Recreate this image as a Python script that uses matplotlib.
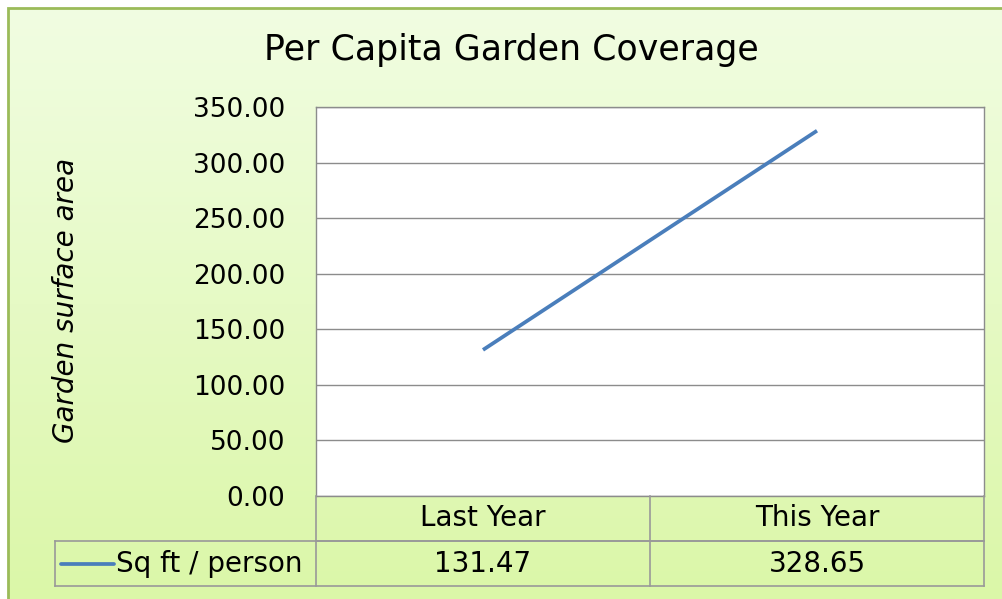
import matplotlib
matplotlib.use('Agg')
import matplotlib.pyplot as plt
import numpy as np
from matplotlib.colors import LinearSegmentedColormap
from matplotlib.patches import Rectangle

categories = ['Last Year', 'This Year']
values = [131.47, 328.65]
series_name = 'Sq ft / person'
title = 'Per Capita Garden Coverage'
ylabel = 'Garden surface area'
yticks = [0, 50, 100, 150, 200, 250, 300, 350]

W, H = 1002, 599
fig = plt.figure(figsize=(W / 100, H / 100), dpi=100)
fig.patch.set_facecolor('white')

def fx(px):
    return px / W

def fy(py):
    return 1 - py / H

# chart area background: vertical gradient with green border
bg = fig.add_axes([fx(8), 0, 1 - fx(8), fy(8)])
grad = LinearSegmentedColormap.from_list('g', ['#dbf7a8', '#f1fde2'])
bg.imshow(np.linspace(0, 1, 256).reshape(-1, 1), aspect='auto', cmap=grad,
          origin='lower', extent=[0, 1, 0, 1])
bg.set_xlim(0, 1)
bg.set_ylim(0, 1)
bg.axis('off')
fig.add_artist(Rectangle((fx(8), -0.01), 1.0, fy(8) + 0.01, transform=fig.transFigure,
                         fill=False, edgecolor='#9bbb59', lw=2))

# plot area
ax = fig.add_axes([fx(316), fy(496), fx(984) - fx(316), fy(107) - fy(496)])
ax.set_facecolor('white')
x = np.arange(len(categories))
ax.plot(x, values, color='#4a7ebb', lw=2.7, solid_capstyle='butt')
ax.set_xlim(-0.5, len(categories) - 0.5)
ax.set_ylim(0, 350)
ax.set_yticks(yticks)
ax.set_yticklabels([f'{v:.2f}' for v in yticks], fontsize=19)
ax.set_xticks([])
ax.yaxis.grid(True, color='#8c8c8c', lw=1)
ax.set_axisbelow(True)
ax.tick_params(axis='y', length=0, pad=22)
for s in ax.spines.values():
    s.set_color('#8c8c8c')
    s.set_linewidth(1)

fig.text(fx(511), fy(50), title, ha='center', va='center', fontsize=25,
         family=['Liberation Sans Narrow', 'DejaVu Sans'])
fig.text(fx(66), fy(300), ylabel, ha='center', va='center', rotation=90,
         fontsize=20, style='italic')

# data table below the plot
gc = '#999999'
col_edges = [fx(316), fx(650), fx(984)]
row1_top, row1_bot, row2_bot = fy(496), fy(541), fy(586)
lines = [
    ([fx(316), fx(984)], [row1_bot, row1_bot]),
    ([fx(55), fx(984)], [row1_bot, row1_bot]),
    ([fx(55), fx(984)], [row2_bot, row2_bot]),
    ([fx(55), fx(55)], [row1_bot, row2_bot]),
]
for e in col_edges:
    lines.append(([e, e], [row1_top, row2_bot]))
for lx, ly in lines:
    fig.add_artist(plt.Line2D(lx, ly, transform=fig.transFigure, color=gc, lw=1.2))

centers = [(col_edges[i] + col_edges[i + 1]) / 2 for i in range(len(categories))]
for c, cat, v in zip(centers, categories, values):
    fig.text(c, (row1_top + row1_bot) / 2, cat, ha='center', va='center', fontsize=20)
    fig.text(c, (row1_bot + row2_bot) / 2, f'{v:.2f}', ha='center', va='center', fontsize=20)

ym = (row1_bot + row2_bot) / 2
fig.add_artist(plt.Line2D([fx(61), fx(114)], [ym, ym], transform=fig.transFigure,
                          color='#4a7ebb', lw=2.7, solid_capstyle='round'))
fig.text(fx(116), ym, series_name, ha='left', va='center', fontsize=20)

fig.savefig('out.png', dpi=100)
